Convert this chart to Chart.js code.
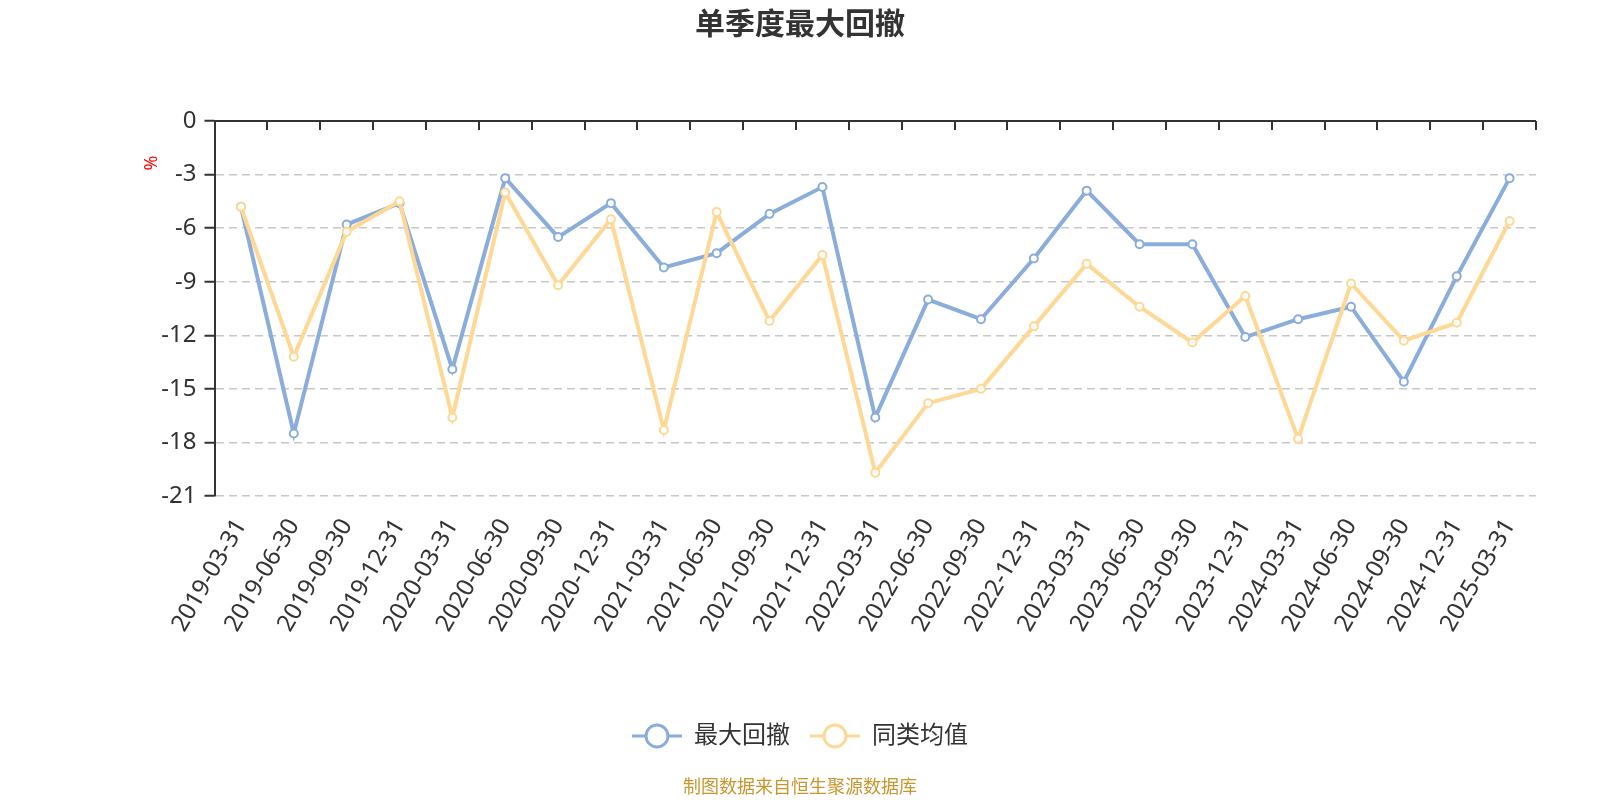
<!DOCTYPE html>
<html>
<head>
<meta charset="utf-8">
<script src="https://cdn.jsdelivr.net/npm/chart.js@4.4.1/dist/chart.umd.min.js"></script>
<style>
  body { margin: 0; background: #fff; }
  #wrap { width: 1600px; height: 800px; }
</style>
</head>
<body>
<div id="wrap"><canvas id="chart"></canvas></div>
<script>
// Quarter end dates
const categories = [
  '2019-03-31', '2019-06-30', '2019-09-30', '2019-12-31',
  '2020-03-31', '2020-06-30', '2020-09-30', '2020-12-31',
  '2021-03-31', '2021-06-30', '2021-09-30', '2021-12-31',
  '2022-03-31', '2022-06-30', '2022-09-30', '2022-12-31',
  '2023-03-31', '2023-06-30', '2023-09-30', '2023-12-31',
  '2024-03-31', '2024-06-30', '2024-09-30', '2024-12-31',
  '2025-03-31'
];

// 最大回撤 (%)
const maxDrawdown = [
  -4.8, -17.5, -5.8, -4.6, -13.9, -3.2, -6.5, -4.6, -8.2, -7.4,
  -5.2, -3.7, -16.6, -10.0, -11.1, -7.7, -3.9, -6.9, -6.9, -12.1,
  -11.1, -10.4, -14.6, -8.7, -3.2
];

// 同类均值 (%)
const peerAverage = [
  -4.8, -13.2, -6.2, -4.5, -16.6, -4.0, -9.2, -5.5, -17.3, -5.1,
  -11.2, -7.5, -19.7, -15.8, -15.0, -11.5, -8.0, -10.4, -12.4, -9.8,
  -17.8, -9.1, -12.3, -11.3, -5.6
];

const yMin = -21;
const yMax = 0;
const yStep = 3;

const BLUE = '#8aaddc';
const ORANGE = '#fed894';
const FONT = "'Noto Sans', 'Noto Sans CJK SC', sans-serif";

// legend icon: short line with a hollow circle in the middle
function legendIcon(color) {
  const c = document.createElement('canvas');
  c.width = 50;
  c.height = 28;
  const g = c.getContext('2d');
  g.strokeStyle = color;
  g.lineWidth = 3;
  g.beginPath();
  g.moveTo(0, 14);
  g.lineTo(50, 14);
  g.stroke();
  g.beginPath();
  g.arc(25, 14, 11, 0, Math.PI * 2);
  g.fillStyle = '#fff';
  g.fill();
  g.stroke();
  return c;
}

// top axis line with inward ticks, unit label and source note
const decorPlugin = {
  id: 'decor',
  afterDraw(chart) {
    const { ctx, chartArea, scales } = chart;
    const x = scales.x;
    const y0 = scales.y.getPixelForValue(0);
    const step = (chartArea.right - chartArea.left) / categories.length;
    ctx.save();
    ctx.strokeStyle = '#333';
    ctx.lineWidth = 2;
    ctx.beginPath();
    ctx.moveTo(chartArea.left, y0);
    ctx.lineTo(chartArea.right, y0);
    for (let i = 0; i <= categories.length; i++) {
      const px = Math.round(x.getPixelForValue(0) - step / 2 + i * step);
      ctx.moveTo(px, y0);
      ctx.lineTo(px, y0 + 9);
    }
    ctx.stroke();

    ctx.fillStyle = '#ff0000';
    ctx.font = '18px ' + FONT;
    ctx.textAlign = 'center';
    ctx.textBaseline = 'middle';
    ctx.translate(chartArea.left - 63, chartArea.top + 42);
    ctx.rotate(-Math.PI / 2);
    ctx.fillText('%', 0, 0);
    ctx.restore();

    ctx.save();
    ctx.fillStyle = '#c8962f';
    ctx.font = '18px ' + FONT;
    ctx.textAlign = 'center';
    ctx.textBaseline = 'middle';
    ctx.fillText('制图数据来自恒生聚源数据库', chart.width / 2, 788);
    ctx.restore();
  }
};

const ctx = document.getElementById('chart');

new Chart(ctx, {
  type: 'line',
  data: {
    labels: categories,
    datasets: [
      {
        label: '最大回撤',
        data: maxDrawdown,
        borderColor: BLUE,
        backgroundColor: '#fff',
        borderWidth: 4,
        pointRadius: 4,
        pointBorderWidth: 2,
        pointBackgroundColor: '#fff',
        pointBorderColor: BLUE,
        tension: 0,
        order: 2
      },
      {
        label: '同类均值',
        data: peerAverage,
        borderColor: ORANGE,
        backgroundColor: '#fff',
        borderWidth: 4,
        pointRadius: 4,
        pointBorderWidth: 2,
        pointBackgroundColor: '#fff',
        pointBorderColor: ORANGE,
        tension: 0,
        order: 1
      }
    ]
  },
  options: {
    responsive: true,
    maintainAspectRatio: false,
    animation: false,
    layout: {
      padding: { top: 0, right: 0, bottom: 42, left: 0 }
    },
    plugins: {
      title: {
        display: true,
        text: '单季度最大回撤',
        color: '#333',
        font: { family: FONT, size: 30, weight: 'bold' },
        padding: { top: 7, bottom: 78 }
      },
      legend: {
        position: 'bottom',
        labels: {
          color: '#333',
          font: { family: FONT, size: 24 },
          usePointStyle: true,
          pointStyleWidth: 50,
          padding: 20,
          generateLabels: chart => chart.data.datasets.map((ds, i) => ({
            text: ds.label,
            fillStyle: ds.borderColor,
            strokeStyle: ds.borderColor,
            lineWidth: 0,
            pointStyle: legendIcon(ds.borderColor),
            fontColor: '#333',
            hidden: !chart.isDatasetVisible(i),
            datasetIndex: i
          }))
        }
      },
      tooltip: { enabled: false }
    },
    scales: {
      x: {
        offset: true,
        grid: { display: false, drawTicks: false },
        border: { display: false },
        ticks: {
          autoSkip: false,
          minRotation: 60,
          maxRotation: 60,
          padding: 18,
          color: '#333',
          font: { family: FONT, size: 24 }
        },
        afterFit: scale => { scale.height = 208; }
      },
      y: {
        min: yMin,
        max: yMax,
        grid: {
          color: '#c8c8c8',
          lineWidth: 1.5,
          tickColor: '#333',
          tickWidth: 2,
          tickLength: 10
        },
        border: { display: true, color: '#333', width: 2, dash: [8, 5] },
        ticks: {
          stepSize: yStep,
          padding: 8,
          color: '#333',
          font: { family: FONT, size: 24 }
        },
        afterFit: scale => { scale.width = 214.5; }
      },
      // empty right-hand spacer so title and legend stay centred on the page
      yRight: {
        position: 'right',
        grid: { display: false },
        border: { display: false },
        ticks: { display: false },
        afterFit: scale => { scale.width = 64; }
      }
    }
  },
  plugins: [decorPlugin]
});
</script>
</body>
</html>
